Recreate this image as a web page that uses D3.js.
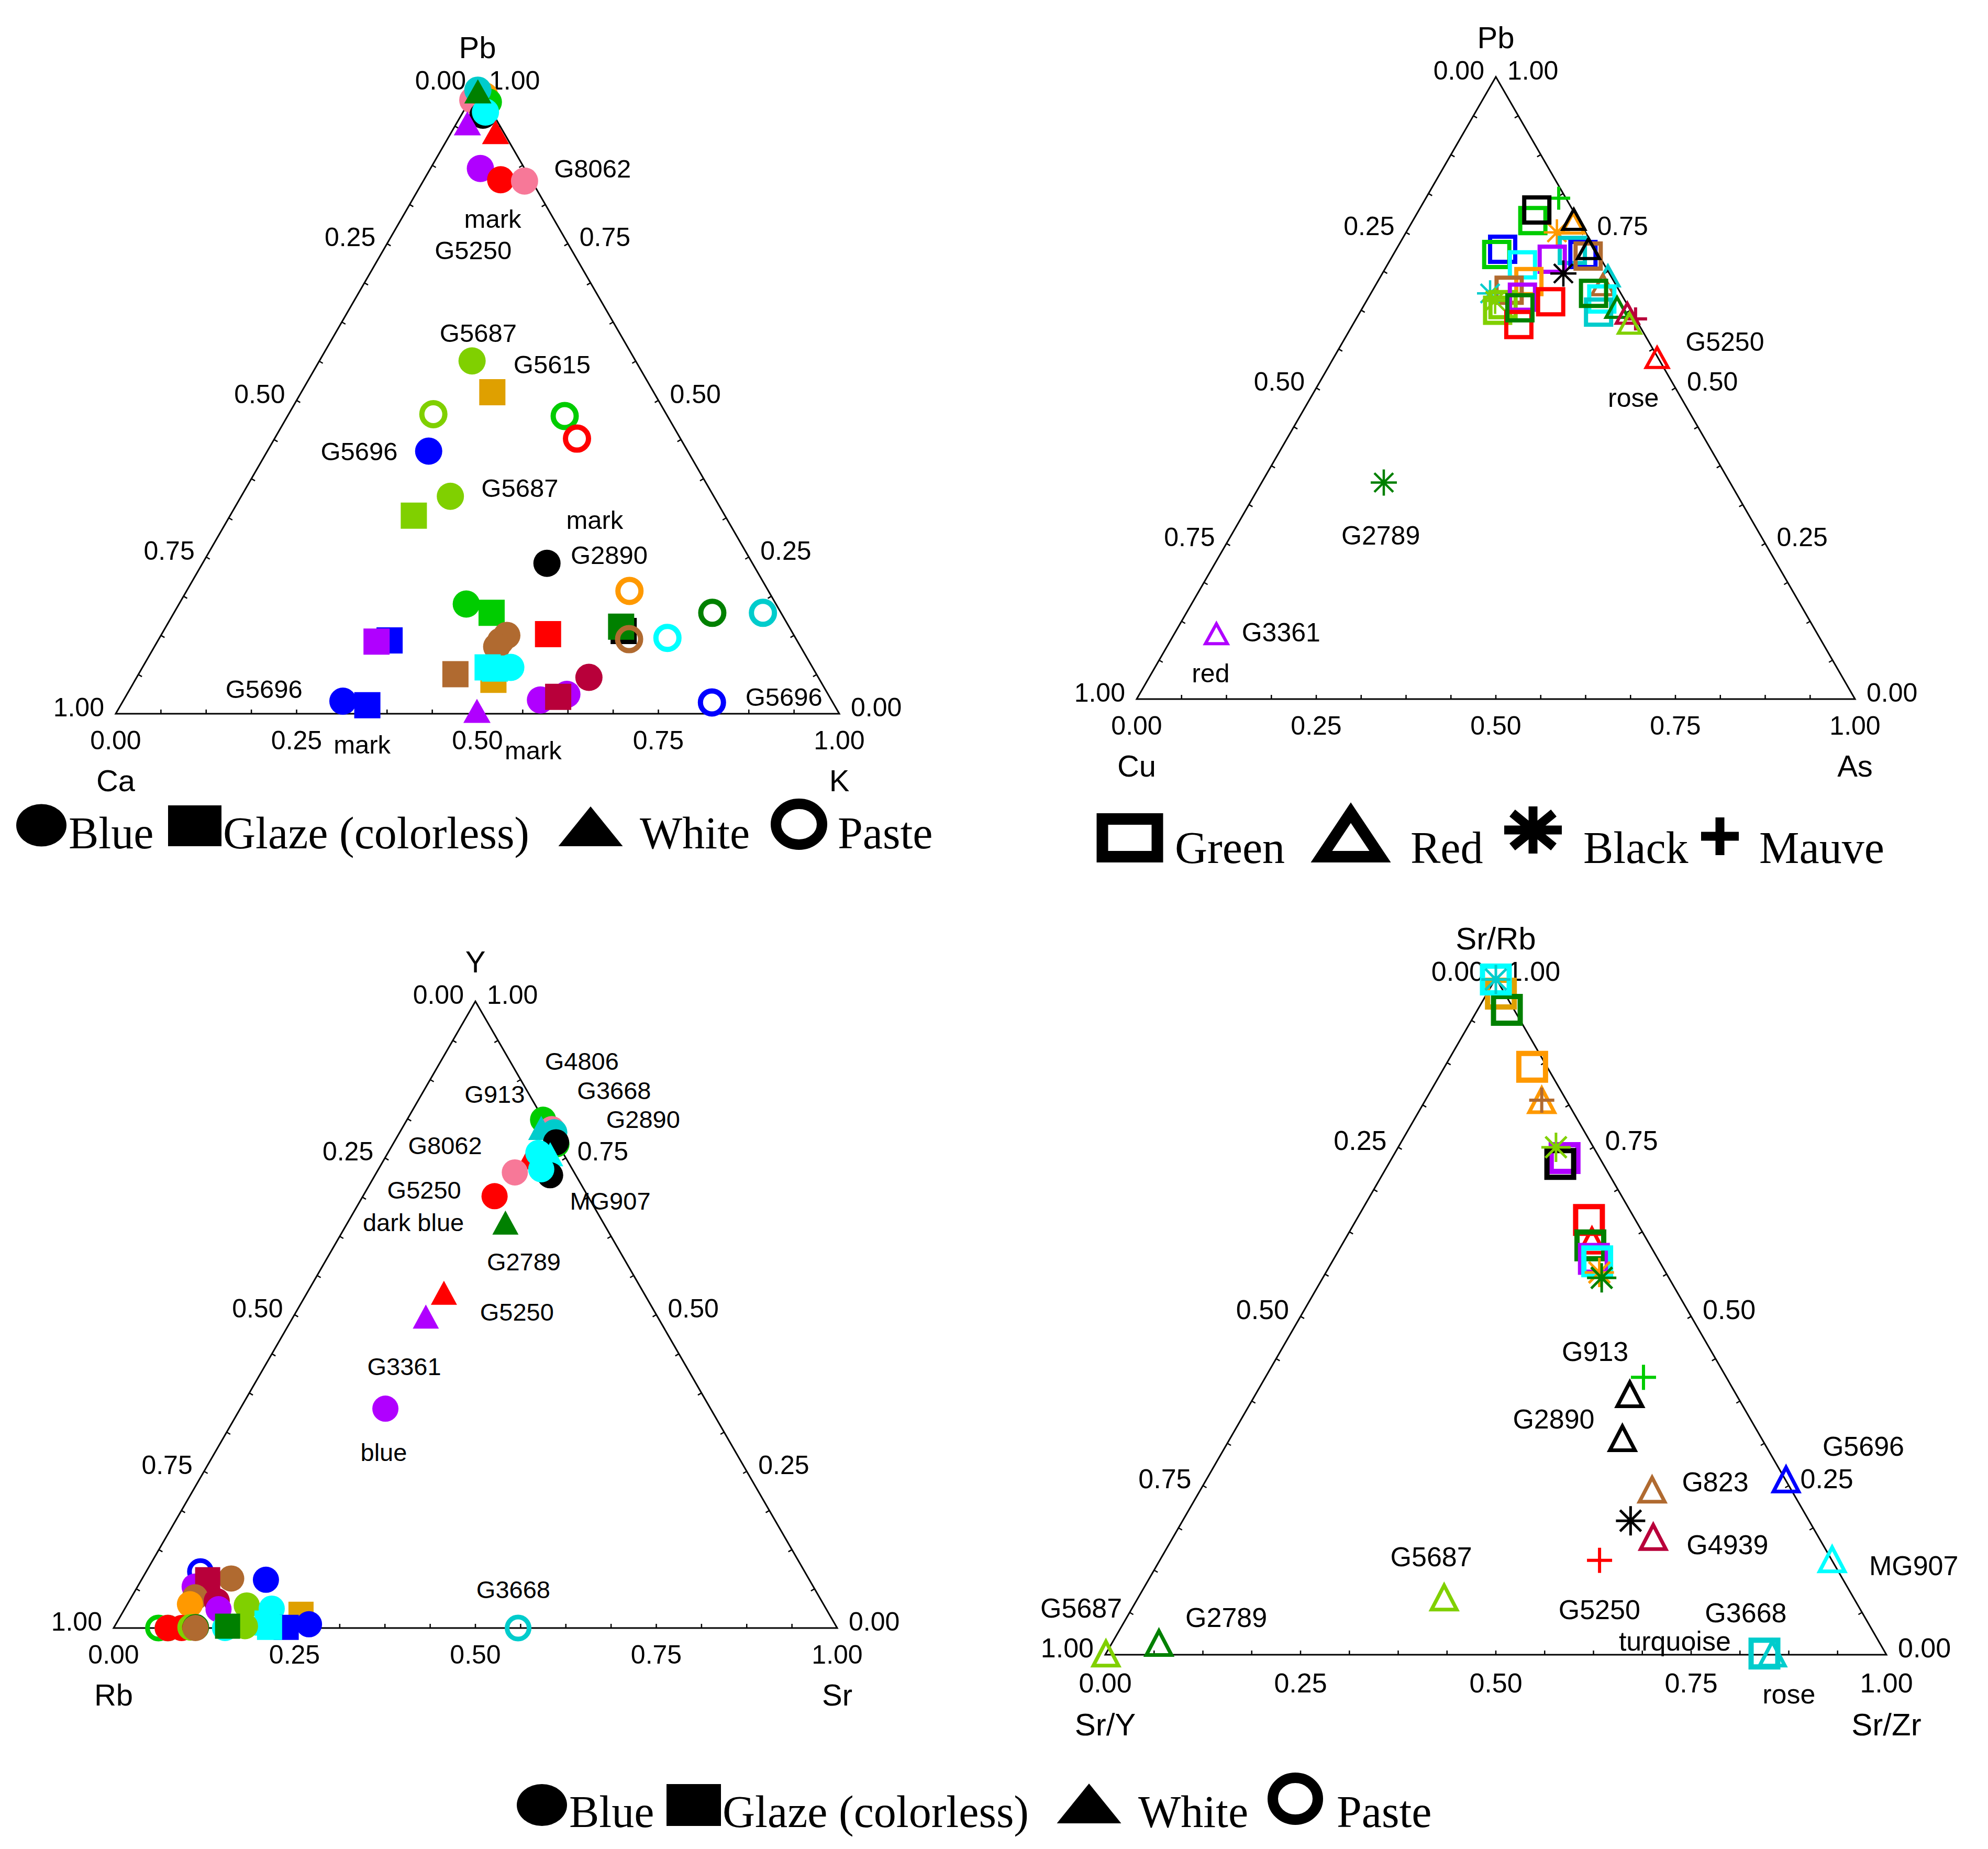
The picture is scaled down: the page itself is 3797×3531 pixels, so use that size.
<!DOCTYPE html>
<html>
<head>
<meta charset="utf-8">
<script src="https://cdn.jsdelivr.net/npm/d3@7"></script>
<style>
  html, body { margin: 0; padding: 0; background: #fff; }
  svg { display: block; }
</style>
</head>
<body>
<svg id="chart" width="3797" height="3531"></svg>
<script>
// sample colours (one colour per glass sample)
const sampleKeys = ["blue", "red", "purple", "pink", "lime", "green", "dkgreen", "orange", "gold", "brown", "cyan", "teal", "crimson", "black"];
const sampleColors = ["#0000ff", "#ff0000", "#b000ff", "#f77898", "#80d000", "#00cc00", "#008000", "#ff9900", "#dfa000", "#b06a30", "#00ffff", "#00cccc", "#b8003a", "#000000"];

const tickValues = [0, 0.25, 0.5, 0.75, 1];

// ---- panel 1 : Pb (top) / Ca (left) / K (right) ----
const p1Axes = ["Pb", "Ca", "K"];
const p1Glass = ["Blue","Blue","Blue","Blue","Blue","Blue","White","White","White","Blue","Blue","Blue",
  "Blue","Glaze","Paste","Paste","Paste","Blue","Blue","Glaze","Blue","Paste","Blue","Glaze","Paste","Paste",
  "Glaze","Glaze","Paste","Paste","Glaze","Glaze","Glaze","Blue","Blue","Blue","Glaze","Glaze","Glaze","Glaze",
  "Blue","Blue","Blue","Blue","Glaze","Blue","Glaze","White","Paste"];
const p1Sample = ["pink","orange","green","teal","black","cyan","dkgreen","purple","red","purple","red","pink",
  "lime","gold","lime","green","red","blue","lime","lime","black","orange","green","green","dkgreen","teal",
  "black","dkgreen","brown","cyan","red","blue","purple","brown","brown","brown","brown","gold","cyan","cyan",
  "cyan","crimson","purple","purple","crimson","blue","blue","purple","blue"];
const p1Pb = [0.979,0.986,0.976,0.995,0.955,0.960,0.993,0.942,0.928,0.870,0.852,0.850,
  0.563,0.513,0.478,0.475,0.439,0.419,0.347,0.316,0.240,0.196,0.175,0.161,0.161,0.161,
  0.132,0.139,0.119,0.121,0.127,0.117,0.115,0.125,0.116,0.107,0.063,0.054,0.074,0.072,
  0.074,0.058,0.022,0.031,0.027,0.020,0.0135,0.0045,0.018];
const p1K = [0.004,0.017,0.027,0.003,0.030,0.031,0.004,0.015,0.061,0.069,0.106,0.140,
  0.211,0.264,0.200,0.383,0.418,0.223,0.289,0.254,0.476,0.612,0.397,0.439,0.744,0.814,
  0.636,0.629,0.650,0.702,0.534,0.320,0.303,0.478,0.474,0.473,0.438,0.495,0.477,0.488,
  0.509,0.625,0.576,0.608,0.598,0.304,0.341,0.497,0.815];
const p1Notes = ["G8062","mark","G5250","G5687","G5615","G5696","G5687","mark","G2890","G5696","mark","mark","G5696"];
const p1NoteTop = [0.870,0.790,0.740,0.608,0.558,0.419,0.361,0.310,0.254,0.040,-0.049,-0.058,0.027];
const p1NoteRight = [0.224,0.126,0.124,0.197,0.324,0.127,0.378,0.507,0.555,0.185,0.365,0.606,0.910];

// ---- panel 2 : Pb (top) / Cu (left) / As (right) ----
const p2Axes = ["Pb", "Cu", "As"];
const p2Glass = ["Green","Mauve","Black","Green","Red","Red","Green","Green","Green","Green","Green","Green",
  "Green","Red","Black","Green","Red","Red","Green","Black","Black","Green","Green","Green","Green","Green",
  "Green","Green","Green","Green","Red","Red","Mauve","Red","Red","Black","Red"];
const p2Sample = ["green","green","orange","black","orange","black","blue","green","teal","blue","purple","cyan",
  "brown","black","black","orange","teal","brown","brown","teal","lime","lime","lime","purple","red","red",
  "dkgreen","cyan","teal","dkgreen","dkgreen","crimson","crimson","lime","red","dkgreen","purple"];
const p2Pb = [0.769,0.805,0.750,0.786,0.765,0.771,0.723,0.7145,0.721,0.7145,0.707,0.698,
  0.712,0.724,0.684,0.671,0.680,0.666,0.657,0.652,0.640,0.634,0.625,0.646,0.6386,0.602,
  0.629,0.643,0.622,0.652,0.6295,0.620,0.611,0.604,0.549,0.348,0.105];
const p2As = [0.167,0.185,0.210,0.164,0.225,0.223,0.148,0.144,0.246,0.264,0.225,0.188,
  0.2725,0.267,0.252,0.2105,0.316,0.316,0.190,0.166,0.179,0.193,0.190,0.214,0.257,0.231,
  0.219,0.326,0.332,0.310,0.354,0.373,0.389,0.384,0.450,0.170,0.0585];
const p2Notes = ["G5250","rose","G2789","G3361","red"];
const p2NoteTop = [0.5746,0.4849,0.2635,0.108,0.042];
const p2NoteRight = [0.5315,0.449,0.208,0.147,0.082];

// ---- panel 3 : Y (top) / Rb (left) / Sr (right) ----
const p3Axes = ["Y", "Rb", "Sr"];
const p3Glass = ["Blue","Blue","White","Blue","Blue","Blue","White","White","Blue","Blue","Blue","Blue",
  "Blue","White","White","White","Blue","Paste","Paste","Blue","Blue","Blue","Glaze","Blue","Blue","Blue",
  "Blue","Blue","Blue","Glaze","Blue","Glaze","Glaze","Glaze","Blue","Blue","Glaze","Paste","Paste","Blue",
  "Blue","Paste","Paste","Blue"];
const p3Sample = ["green","pink","teal","teal","green","black","red","cyan","cyan","black","cyan","pink",
  "red","dkgreen","red","purple","purple","teal","blue","blue","brown","purple","crimson","brown","orange","crimson",
  "purple","lime","cyan","gold","blue","blue","cyan","cyan","lime","cyan","dkgreen","green","brown","red",
  "red","lime","dkgreen","brown"];
const p3Y = [0.811,0.796,0.798,0.791,0.772,0.775,0.751,0.756,0.758,0.7225,0.732,0.727,
  0.689,0.647,0.535,0.497,0.350,0.000,0.090,0.077,0.079,0.066,0.077,0.049,0.038,0.043,
  0.030,0.036,0.031,0.022,0.006,0.001,0.008,0.001,0.003,0.000,0.003,0.000,0.000,0.000,
  0.000,0.001,0.001,0.000];
const p3Sr = [0.188,0.2075,0.192,0.2135,0.226,0.224,0.1995,0.2254,0.208,0.242,0.225,0.191,
  0.182,0.218,0.189,0.183,0.2006,0.559,0.075,0.172,0.123,0.079,0.0915,0.088,0.0865,0.121,
  0.130,0.166,0.203,0.248,0.267,0.238,0.208,0.215,0.180,0.154,0.156,0.062,0.075,0.075,
  0.094,0.106,0.113,0.113];
const p3Notes = ["G4806","G913","G3668","G2890","G8062","G5250","MG907","dark blue","G2789","G5250","G3361","blue","G3668"];
const p3NoteTop = [0.905,0.8523,0.858,0.812,0.7699,0.699,0.6818,0.6476,0.5852,0.5047,0.4176,0.2803,0.0616];
const p3NoteRight = [0.1946,0.1005,0.2627,0.3258,0.0731,0.0797,0.3454,0.0905,0.2743,0.305,0.1928,0.2332,0.5216];

// ---- panel 4 : Sr/Rb (top) / Sr/Y (left) / Sr/Zr (right) ----
const p4Axes = ["Sr/Rb", "Sr/Y", "Sr/Zr"];
const p4Glass = ["Green","Green","Green","Black","Green","Red","Mauve","Green","Green","Black","Green","Red",
  "Green","Green","Green","Black","Black","Mauve","Red","Red","Red","Red","Black","Red","Mauve","Red",
  "Red","Red","Red","Green","Red"];
const p4Sample = ["gold","dkgreen","cyan","teal","orange","orange","brown","purple","black","lime","red","red",
  "dkgreen","purple","cyan","orange","dkgreen","green","black","black","brown","blue","black","crimson","red","cyan",
  "lime","lime","dkgreen","teal","teal"];
const p4SrRb = [0.977,0.953,0.998,0.998,0.869,0.8195,0.8195,0.734,0.7254,0.750,0.6425,0.612,
  0.605,0.585,0.5815,0.565,0.557,0.410,0.385,0.320,0.244,0.259,0.198,0.174,0.1395,0.141,
  0.0846,0.0017,0.0174,0.0017,0.0017];
const p4SrZr = [0.018,0.0376,0.001,0.001,0.112,0.149,0.149,0.221,0.2198,0.202,0.298,0.317,
  0.3185,0.333,0.339,0.350,0.357,0.484,0.479,0.502,0.578,0.742,0.5735,0.6145,0.563,0.860,
  0.3915,0.000,0.060,0.843,0.853];
const p4Notes = ["G913","G2890","G5696","G823","G4939","MG907","G5687","G5687","G2789","G5250","G3668","turquoise","rose"];
const p4NoteTop = [0.449,0.3487,0.3086,0.2563,0.163,0.1325,0.1456,0.0697,0.0558,0.0671,0.0628,0.0209,-0.0575];
const p4NoteRight = [0.4026,0.3997,0.8162,0.6527,0.715,0.9687,0.3445,-0.0656,0.127,0.599,0.7886,0.7187,0.9039];

// legends
const legendA = ["Blue", "Glaze (colorless)", "White", "Paste"];
const legendB = ["Green", "Red", "Black", "Mauve"];

const color = d3.scaleOrdinal().domain(sampleKeys).range(sampleColors);
const svg = d3.select("#chart");
svg.append("rect").attr("width", 3797).attr("height", 3531).attr("fill", "#fff");

const SANS = "'Liberation Sans', Arial, sans-serif";
const SERIF = "'Liberation Serif', 'Times New Roman', serif";

// path of a symbol centred on 0,0 with full width w and height h
function symbolPath(kind, w, h) {
  const a = w / 2, b = h / 2;
  if (kind === "circle") return `M${-a},0A${a},${b} 0 1,0 ${a},0A${a},${b} 0 1,0 ${-a},0Z`;
  if (kind === "square") return `M${-a},${-b}H${a}V${b}H${-a}Z`;
  if (kind === "triangle") return `M0,${-b}L${a},${b}L${-a},${b}Z`;
  if (kind === "plus") return `M0,${-b}V${b}M${-a},0H${a}`;
  if (kind === "asterisk") {
    const d = 0.72;
    return `M0,${-b}V${b}M${-a},0H${a}M${-a * d},${-b * d}L${a * d},${b * d}M${-a * d},${b * d}L${a * d},${-b * d}`;
  }
  return "";
}

// marker styles per glass type
const styleA = {
  Blue:  { kind: "circle",   fill: true },
  Glaze: { kind: "square",   fill: true },
  White: { kind: "triangle", fill: true },
  Paste: { kind: "circle",   fill: false }
};
const styleB = {
  Green: { kind: "square",   fill: false },
  Red:   { kind: "triangle", fill: false },
  Black: { kind: "asterisk", fill: false },
  Mauve: { kind: "plus",     fill: false }
};

function drawPanel(cfg) {
  const side = cfg.side, h = side * Math.sqrt(3) / 2;
  const x = d3.scaleLinear().domain([0, 1]).range([cfg.left, cfg.left + side]);
  const y = d3.scaleLinear().domain([0, 1]).range([cfg.base, cfg.base - h]);
  const px = (t, r) => x(r + t / 2);
  const py = t => y(t);
  const g = svg.append("g");

  // frame
  g.append("path")
    .attr("d", `M${px(1, 0)},${py(1)}L${px(0, 0)},${py(0)}L${px(0, 1)},${py(0)}Z`)
    .attr("fill", "none").attr("stroke", "#000").attr("stroke-width", 3).attr("stroke-linejoin", "miter");

  // minor ticks every 1/16
  const ticks = d3.range(1, 16).map(k => k / 16);
  const tl = 8;
  ticks.forEach(f => {
    // left edge
    let t = 1 - f;
    g.append("line").attr("x1", px(t, 0)).attr("y1", py(t))
      .attr("x2", px(t, 0) + tl * 0.866).attr("y2", py(t) + tl * 0.5)
      .attr("stroke", "#000").attr("stroke-width", 2.5);
    // right edge
    t = f;
    g.append("line").attr("x1", px(t, 1 - t)).attr("y1", py(t))
      .attr("x2", px(t, 1 - t) - tl * 0.866).attr("y2", py(t) + tl * 0.5)
      .attr("stroke", "#000").attr("stroke-width", 2.5);
    // bottom
    g.append("line").attr("x1", px(0, f)).attr("y1", py(0))
      .attr("x2", px(0, f)).attr("y2", py(0) - tl)
      .attr("stroke", "#000").attr("stroke-width", 2.5);
  });

  const fmt = d3.format(".2f");
  const tickFont = cfg.tickFont;
  tickValues.forEach(v => {
    // left side (left component), right side (top component), bottom (right component)
    g.append("text").attr("x", px(1 - v, 0) - 22).attr("y", py(1 - v) + 5)
      .attr("text-anchor", "end").attr("font-family", SANS).attr("font-size", tickFont).text(fmt(v));
    g.append("text").attr("x", px(v, 1 - v) + 22).attr("y", py(v) + 5)
      .attr("text-anchor", "start").attr("font-family", SANS).attr("font-size", tickFont).text(fmt(v));
    g.append("text").attr("x", px(0, v)).attr("y", py(0) + cfg.bottomOff)
      .attr("text-anchor", "middle").attr("font-family", SANS).attr("font-size", tickFont).text(fmt(v));
  });

  // axis titles
  g.append("text").attr("x", px(1, 0)).attr("y", py(1) - 55).attr("text-anchor", "middle")
    .attr("font-family", SANS).attr("font-size", cfg.titleFont).text(cfg.axes[0]);
  g.append("text").attr("x", px(0, 0)).attr("y", py(0) + cfg.titleOff).attr("text-anchor", "middle")
    .attr("font-family", SANS).attr("font-size", cfg.titleFont).text(cfg.axes[1]);
  g.append("text").attr("x", px(0, 1)).attr("y", py(0) + cfg.titleOff).attr("text-anchor", "middle")
    .attr("font-family", SANS).attr("font-size", cfg.titleFont).text(cfg.axes[2]);

  // annotations
  cfg.notes.forEach((n, i) => {
    g.append("text").attr("x", px(cfg.noteTop[i], cfg.noteRight[i]))
      .attr("y", py(cfg.noteTop[i])).attr("dy", "0.36em")
      .attr("text-anchor", "middle").attr("font-family", SANS).attr("font-size", cfg.noteFont)
      .text(n);
  });

  // points
  const pts = cfg.glass.map((gl, i) => ({ glass: gl, sample: cfg.sample[i], t: cfg.top[i], r: cfg.right[i] }));
  g.selectAll("path.pt").data(pts).enter().append("path")
    .attr("class", "pt")
    .attr("transform", d => `translate(${px(d.t, d.r)},${py(d.t)})`)
    .attr("d", d => {
      const st = cfg.styles[d.glass];
      const sz = cfg.sizes[d.glass];
      return symbolPath(st.kind, sz[0], sz[1]);
    })
    .attr("fill", d => cfg.styles[d.glass].fill ? color(d.sample) : "none")
    .attr("stroke", d => cfg.styles[d.glass].fill ? "none" : color(d.sample))
    .attr("stroke-width", d => cfg.sizes[d.glass][2] || 0)
    .attr("stroke-linejoin", "miter");
}

drawPanel({
  left: 221, base: 1363, side: 1382, axes: p1Axes,
  tickFont: 50, titleFont: 58, noteFont: 49, bottomOff: 68, titleOff: 148,
  glass: p1Glass, sample: p1Sample, top: p1Pb, right: p1K,
  notes: p1Notes, noteTop: p1NoteTop, noteRight: p1NoteRight,
  styles: styleA,
  sizes: { Blue: [52, 52], Glaze: [50, 50], White: [52, 46], Paste: [44, 44, 10] }
});

drawPanel({
  left: 2171, base: 1335, side: 1372, axes: p2Axes,
  tickFont: 50, titleFont: 58, noteFont: 50, bottomOff: 68, titleOff: 148,
  glass: p2Glass, sample: p2Sample, top: p2Pb, right: p2As,
  notes: p2Notes, noteTop: p2NoteTop, noteRight: p2NoteRight,
  styles: styleB,
  sizes: { Green: [48, 48, 8], Red: [42, 38, 6], Black: [50, 50, 4.5], Mauve: [44, 44, 6] }
});

drawPanel({
  left: 217, base: 3109, side: 1382, axes: p3Axes,
  tickFont: 50, titleFont: 58, noteFont: 47, bottomOff: 68, titleOff: 148,
  glass: p3Glass, sample: p3Sample, top: p3Y, right: p3Sr,
  notes: p3Notes, noteTop: p3NoteTop, noteRight: p3NoteRight,
  styles: styleA,
  sizes: { Blue: [50, 50], Glaze: [48, 48], White: [50, 46], Paste: [42, 42, 9] }
});

drawPanel({
  left: 2111, base: 3160, side: 1492, axes: p4Axes,
  tickFont: 52, titleFont: 60, noteFont: 52, bottomOff: 72, titleOff: 154,
  glass: p4Glass, sample: p4Sample, top: p4SrRb, right: p4SrZr,
  notes: p4Notes, noteTop: p4NoteTop, noteRight: p4NoteRight,
  styles: styleB,
  sizes: { Green: [51, 51, 10], Red: [48, 46, 7], Black: [56, 56, 5], Mauve: [48, 48, 6] }
});

// legends: symbol centre, size, text start
function drawLegend(items, baseline) {
  const g = svg.append("g");
  items.forEach(it => {
    g.append("path").attr("transform", `translate(${it.cx},${it.cy})`)
      .attr("d", symbolPath(it.kind, it.w, it.h))
      .attr("fill", it.fill ? "#000" : "none")
      .attr("stroke", it.fill ? "none" : "#000")
      .attr("stroke-width", it.sw || 0)
      .attr("stroke-linejoin", "miter");
    g.append("text").attr("x", it.tx).attr("y", baseline)
      .attr("font-family", SERIF).attr("font-size", 86).text(it.label);
  });
}

drawLegend([
  { label: legendA[0], kind: "circle",   fill: true,  cx: 79,   cy: 1576, w: 96,  h: 81, tx: 131 },
  { label: legendA[1], kind: "square",   fill: true,  cx: 372,  cy: 1577, w: 102, h: 78, tx: 426 },
  { label: legendA[2], kind: "triangle", fill: true,  cx: 1128, cy: 1578, w: 123, h: 76, tx: 1222 },
  { label: legendA[3], kind: "circle",   fill: false, cx: 1526, cy: 1574, w: 88,  h: 78, sw: 20, tx: 1600 }
], 1620);

drawLegend([
  { label: legendB[0], kind: "square",   fill: false, cx: 2158, cy: 1600, w: 105, h: 72, sw: 22, tx: 2244 },
  { label: legendB[1], kind: "triangle", fill: false, cx: 2580, cy: 1594, w: 112, h: 84, sw: 22, tx: 2694 },
  { label: legendB[2], kind: "asterisk", fill: false, cx: 2928, cy: 1585, w: 110, h: 90, sw: 17, tx: 3024 },
  { label: legendB[3], kind: "plus",     fill: false, cx: 3285, cy: 1597, w: 72,  h: 72, sw: 17, tx: 3360 }
], 1648);

drawLegend([
  { label: legendA[0], kind: "circle",   fill: true,  cx: 1035, cy: 3447, w: 96,  h: 80, tx: 1087 },
  { label: legendA[1], kind: "square",   fill: true,  cx: 1325, cy: 3447, w: 104, h: 80, tx: 1380 },
  { label: legendA[2], kind: "triangle", fill: true,  cx: 2080, cy: 3444, w: 123, h: 76, tx: 2174 },
  { label: legendA[3], kind: "circle",   fill: false, cx: 2474, cy: 3435, w: 86,  h: 80, sw: 20, tx: 2553 }
], 3489);
</script>
</body>
</html>
